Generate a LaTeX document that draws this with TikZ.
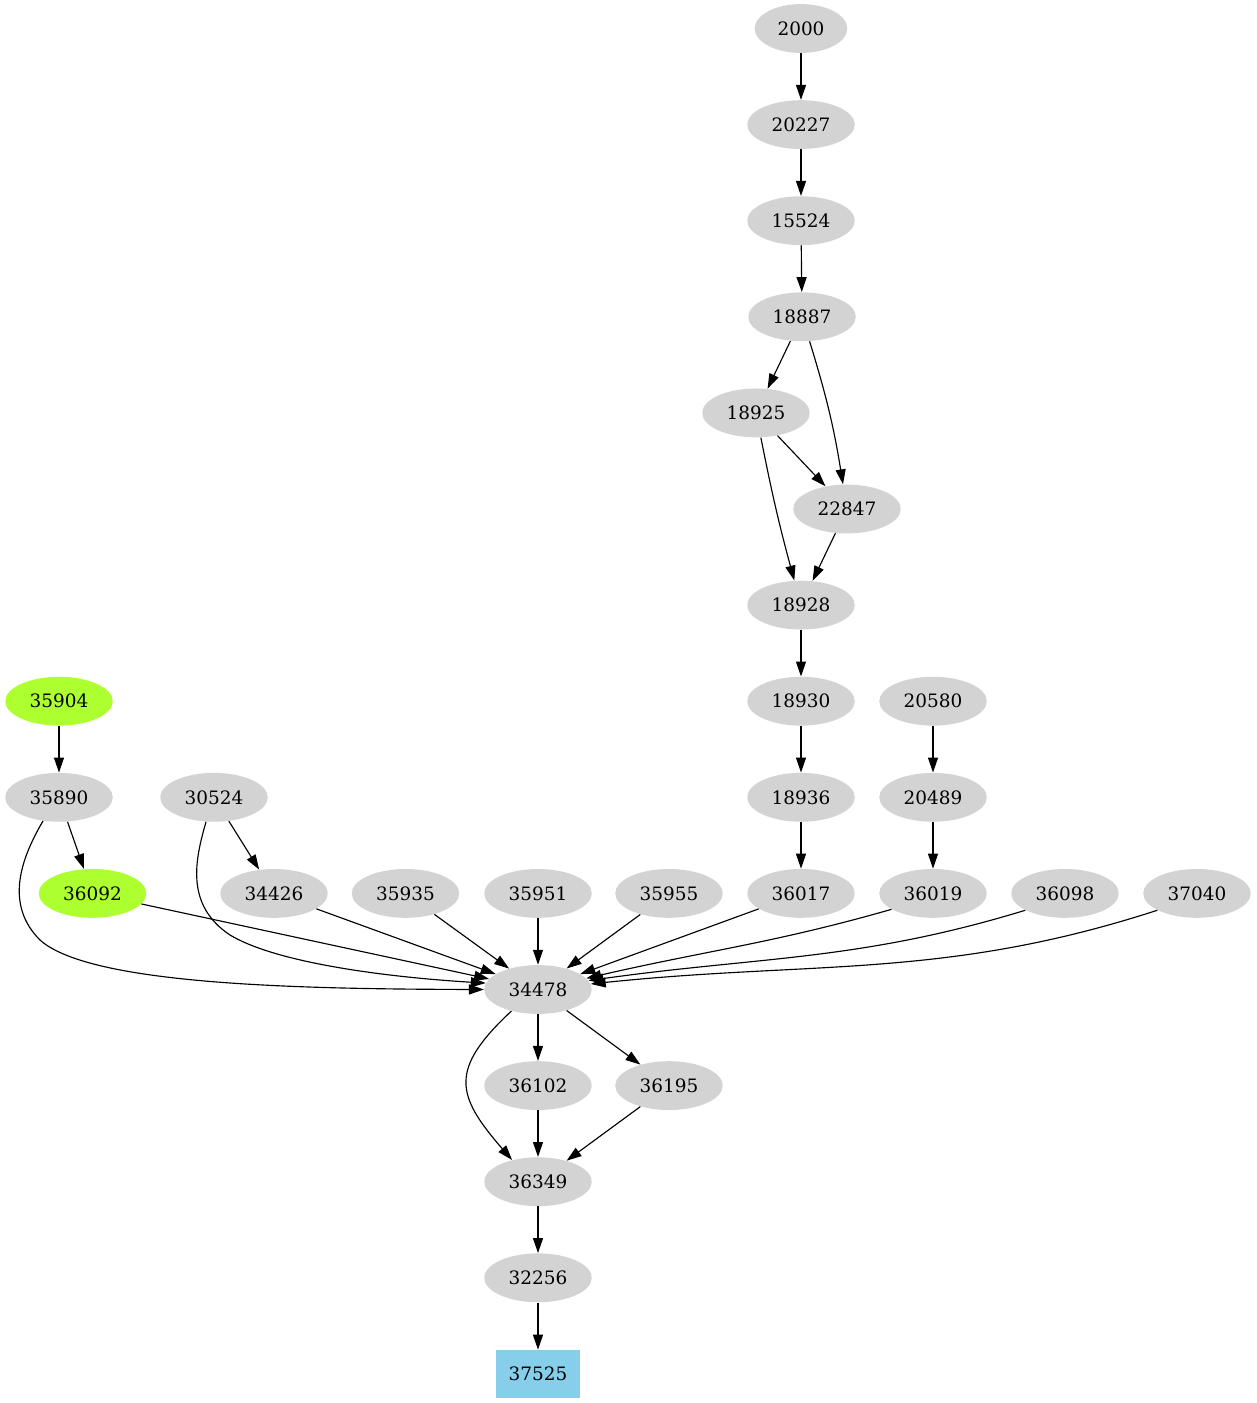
\documentclass[tikz,border=0pt]{standalone}
\usepackage{fontspec}
\setmainfont{DejaVu Serif}
\usetikzlibrary{shapes.geometric,arrows.meta}
\definecolor{lgray}{HTML}{D3D3D3}
\definecolor{gyel}{HTML}{ADFF2F}
\definecolor{skyb}{HTML}{87CEEB}
\tikzset{
  gnode/.style={ellipse, fill=lgray, minimum width=61.2pt, minimum height=27.8pt, inner sep=0pt, font=\fontsize{10.5}{12}\selectfont},
  grnode/.style={gnode, fill=gyel},
  boxnode/.style={rectangle, fill=skyb, minimum width=47.6pt, minimum height=27.2pt, inner sep=0pt, font=\fontsize{10.5}{12}\selectfont},
  conn/.style={draw, line width=0.65pt, -{Triangle[length=8.5pt,width=5.7pt]}}
}
\begin{document}
\begin{tikzpicture}[x=0.02cm,y=0.02cm]
\useasboundingbox (0,0) rectangle (1257,-1403);
% nodes
\node[gnode, minimum width=52.7pt] (n2000) at (801,-28.5) {2000};
\node[gnode] (n20227) at (801,-124.6) {20227};
\node[gnode] (n15524) at (801,-220.7) {15524};
\node[gnode] (n18887) at (802,-316.8) {18887};
\node[gnode] (n18925) at (756,-412.9) {18925};
\node[gnode] (n22847) at (847,-509) {22847};
\node[gnode] (n18928) at (801,-605.1) {18928};
\node[gnode] (n18930) at (801,-701.2) {18930};
\node[gnode] (n20580) at (933,-701.2) {20580};
\node[grnode] (n35904) at (59,-701.2) {35904};
\node[gnode] (n18936) at (801,-797.3) {18936};
\node[gnode] (n20489) at (933,-797.3) {20489};
\node[gnode] (n35890) at (59,-797.3) {35890};
\node[gnode] (n30524) at (214,-797.3) {30524};
\node[grnode] (n36092) at (92.5,-893.4) {36092};
\node[gnode] (n34426) at (274,-893.4) {34426};
\node[gnode] (n35935) at (405.5,-893.4) {35935};
\node[gnode] (n35951) at (538,-893.4) {35951};
\node[gnode] (n35955) at (669,-893.4) {35955};
\node[gnode] (n36017) at (801,-893.4) {36017};
\node[gnode] (n36019) at (933,-893.4) {36019};
\node[gnode] (n36098) at (1065,-893.4) {36098};
\node[gnode] (n37040) at (1197,-893.4) {37040};
\node[gnode] (n34478) at (538,-989.5) {34478};
\node[gnode] (n36102) at (538,-1085.6) {36102};
\node[gnode] (n36195) at (669,-1085.6) {36195};
\node[gnode] (n36349) at (538,-1181.7) {36349};
\node[gnode] (n32256) at (538,-1277.8) {32256};
\node[boxnode] (n37525) at (538,-1373.9) {37525};
% edges
\draw[conn] (n2000) -- (n20227);
\draw[conn] (n20227) -- (n15524);
\draw[conn] (n15524) -- (n18887);
\draw[conn] (n18887) -- (n18925);
\draw[conn] (n18887) to[bend left=4] (n22847);
\draw[conn] (n18925) -- (n22847);
\draw[conn] (n18925) to[bend right=2] (n18928);
\draw[conn] (n22847) -- (n18928);
\draw[conn] (n18928) -- (n18930);
\draw[conn] (n18930) -- (n18936);
\draw[conn] (n18936) -- (n36017);
\draw[conn] (n20580) -- (n20489);
\draw[conn] (n20489) -- (n36019);
\draw[conn] (n35904) -- (n35890);
\draw[conn] (n35890) -- (n36092);
\draw[conn] (n30524) -- (n34426);
\draw[conn] (n35890.-124) .. controls (20,-860) and (5,-905) .. (40,-940) .. controls (90,-985) and (300,-989) .. (n34478.west);
\draw[conn] (n30524.-108) .. controls (195,-860) and (185,-905) .. (230,-935) .. controls (280,-965) and (400,-978) .. (n34478.173);
\draw[conn] (n36092) -- (n34478);
\draw[conn] (n34426) -- (n34478);
\draw[conn] (n35935) -- (n34478);
\draw[conn] (n35951) -- (n34478);
\draw[conn] (n35955) -- (n34478);
\draw[conn] (n36017) -- (n34478);
\draw[conn] (n36019.-159) to[out=-164,in=13] (n34478.13);
\draw[conn] (n36098.-157) to[out=-163,in=8] (n34478.10);
\draw[conn] (n37040.-157) to[out=-162,in=6] (n34478.6);
\draw[conn] (n34478) -- (n36102);
\draw[conn] (n34478) -- (n36195);
\draw[conn] (n34478.-141) to[out=-137,in=131,looseness=1.47] (n36349.140);
\draw[conn] (n36102) -- (n36349);
\draw[conn] (n36195) -- (n36349);
\draw[conn] (n36349) -- (n32256);
\draw[conn] (n32256) -- (n37525);
\end{tikzpicture}
\end{document}
